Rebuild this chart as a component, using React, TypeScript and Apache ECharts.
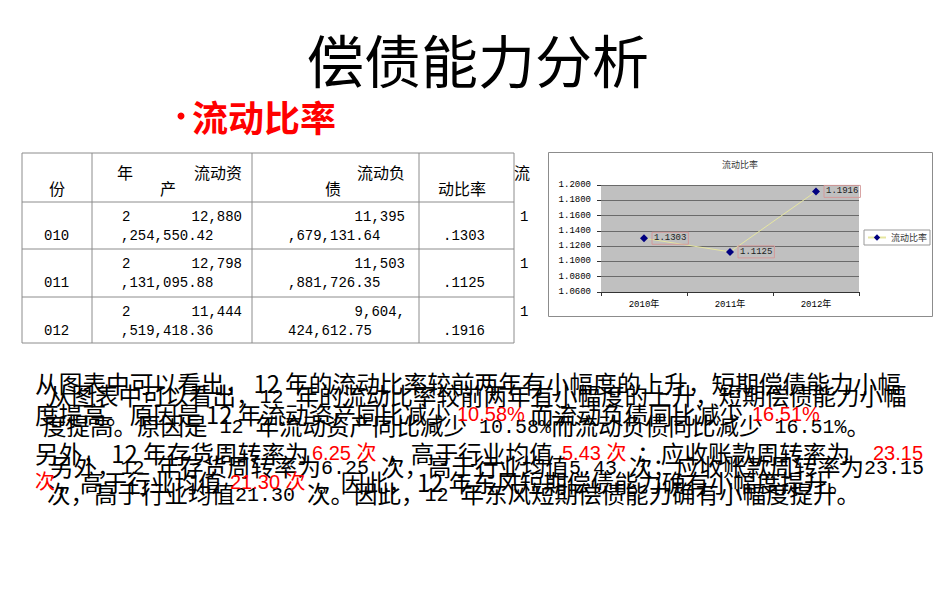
import React, { useEffect, useRef } from 'react';
import * as echarts from 'echarts';

// 표 / 차트 데이터
const categories = ['2010年', '2011年', '2012年'];
const years = ['2010', '2011', '2012'];
const currentAssets = ['12,880,254,550.42', '12,798,131,095.88', '11,444,519,418.36'];
const currentLiabilities = ['11,395,679,131.64', '11,503,881,726.35', '9,604,424,612.75'];
const currentRatio = [1.1303, 1.1125, 1.1916];
const yMin = 1.06;
const yMax = 1.2;
const yStep = 0.02;

// 본문 위 레이어: [글자, 빨간색 여부]
const textTop: [string, boolean][][] = [
  [['从图表中可以看出， 12 年的流动比率较前两年有小幅度的上升，短期偿债能力小幅', false]],
  [['度提高。原因是 12 年流动资产同比减少', false], ['10.58%', true], ['而流动负债同比减少', false], ['16.51%', true]],
  [['另外， 12 年存货周转率为', false], ['6.25 次', true], ['，高于行业均值', false], ['5.43 次', true], ['；应收账款周转率为', false], ['23.15', true]],
  [['次', true], ['，高于行业均值', false], ['21.30 次', true], ['。因此， 12 年东风短期偿债能力确有小幅度提升。', false]],
];
// 본문 아래 레이어
const textBottom = [
  '从图表中可以看出，12 年的流动比率较前两年有小幅度的上升，短期偿债能力小幅',
  '度提高。原因是 12 年流动资产同比减少 10.58%而流动负债同比减少 16.51%。',
  '另外，12 年存货周转率为6.25 次，高于行业均值5.43 次；应收账款周转率为23.15',
  '次，高于行业均值21.30 次。因此，12 年东风短期偿债能力确有小幅度提升。',
];

const CJK = '"Noto Sans CJK SC"';
const MONO = '"Liberation Mono", "Noto Sans CJK SC"';
const SANS = '"Liberation Sans", "Noto Sans CJK SC"';

const txt = (x: number, y: number, text: string, o: any = {}) => ({
  type: 'text',
  z: 10,
  style: {
    text,
    x,
    y,
    fill: o.fill || '#000',
    fontSize: o.size || 16,
    fontFamily: o.family || CJK,
    fontWeight: o.weight || 'normal',
    textAlign: o.align || 'left',
    align: o.align || 'left',
    textVerticalAlign: 'middle',
    verticalAlign: 'middle',
  },
});

const App = () => {
  const chartRef = useRef(null);

  useEffect(() => {
    const chart = echarts.init(chartRef.current, null, { renderer: 'svg' });

    // 표 선
    const colX = [22, 92, 252, 419, 514];
    const rowY = [153, 202, 249, 297, 343];
    const lines: any[] = [];
    rowY.forEach((y) =>
      lines.push({ type: 'line', z: 5, shape: { x1: colX[0], y1: y, x2: colX[4], y2: y }, style: { stroke: '#8c8c8c', lineWidth: 1 } })
    );
    colX.forEach((x) =>
      lines.push({ type: 'line', z: 5, shape: { x1: x, y1: rowY[0], x2: x, y2: rowY[4] }, style: { stroke: '#8c8c8c', lineWidth: 1 } })
    );

    // 표 글자
    const cells: any[] = [
      txt(57, 188, '份', { align: 'center' }),
      txt(125, 172, '年', { align: 'center' }),
      txt(242, 172, '流动资', { align: 'right' }),
      txt(168, 188, '产', { align: 'center' }),
      txt(405, 172, '流动负', { align: 'right' }),
      txt(333, 188, '债', { align: 'center' }),
      txt(438, 188, '动比率'),
      txt(514, 172, '流'),
    ];
    const topY = [217, 264, 312];
    const botY = [236, 283, 331];
    years.forEach((yr, i) => {
      const ratio = currentRatio[i].toFixed(4);
      const num = { family: MONO, size: 14 };
      cells.push(txt(122, topY[i], yr.slice(0, 1), num));
      cells.push(txt(44, botY[i], yr.slice(1), num));
      cells.push(txt(242, topY[i], currentAssets[i].slice(0, 6), { ...num, align: 'right' }));
      cells.push(txt(121, botY[i], currentAssets[i].slice(6), num));
      cells.push(txt(405, topY[i], currentLiabilities[i].slice(0, 6), { ...num, align: 'right' }));
      cells.push(txt(288, botY[i], currentLiabilities[i].slice(6), num));
      cells.push(txt(520, topY[i], ratio.slice(0, 1), num));
      cells.push(txt(443, botY[i], ratio.slice(1), num));
    });

    // 본문 아래 레이어 (title 컴포넌트, 한자/숫자 글꼴 분리)
    const bottomX = [48, 43, 50, 47];
    const bottomY = [395, 425, 466, 493];
    const titles: any[] = textBottom.map((line, i) => ({
      text: line
        .split(/([\x20-\x7e]+)/)
        .filter(Boolean)
        .map((s) => (/^[\x20-\x7e]+$/.test(s) ? `{n|${s}}` : `{b|${s}}`))
        .join(''),
      left: bottomX[i],
      top: bottomY[i] - 12,
      padding: 0,
      textStyle: {
        fontWeight: 'normal',
        rich: {
          b: { fontFamily: CJK, fontSize: 23.5, lineHeight: 24, color: '#000' },
          // 숫자가 한자 기준선에 맞도록 약간 아래로
          n: { fontFamily: MONO, fontSize: 20, lineHeight: 19, verticalAlign: 'bottom', color: '#000' },
        },
      },
    }));

    // 본문 위 레이어 (조각별 위치)
    const topXs = [[35], [35, 457, 530, 752], [35, 312, 387, 562, 637, 873], [35, 56, 230, 317]];
    const topYs = [383, 414, 453, 482];
    const paraTop: any[] = [];
    textTop.forEach((segs, i) => {
      segs.forEach(([t, red], j) => {
        paraTop.push(
          txt(topXs[i][j], topYs[i], t, red ? { size: 20, family: SANS, fill: '#ff0000' } : { size: 23.7 })
        );
      });
    });

    const options = {
      animation: false,
      title: titles,
      graphic: [
        txt(478, 58, '偿债能力分析', { size: 57, align: 'center' }),
        { type: 'circle', z: 10, shape: { cx: 181, cy: 116, r: 3.5 }, style: { fill: '#ff0000' } },
        txt(192, 116, '流动比率', { size: 36, weight: 'bold', fill: '#ff0000' }),
        ...lines,
        ...cells,
        ...paraTop,
        // 차트 박스
        { type: 'rect', z: -10, shape: { x: 548.5, y: 152.5, width: 384, height: 164 }, style: { fill: '#fff', stroke: '#8c8c8c', lineWidth: 1 } },
        txt(740, 164, '流动比率', { size: 9, fill: '#333', align: 'center' }),
      ],
      grid: {
        left: 601,
        top: 185,
        width: 258,
        height: 107,
        show: true,
        backgroundColor: '#c0c0c0',
        borderWidth: 0,
      },
      legend: {
        data: ['流动比率'],
        left: 864,
        top: 230,
        orient: 'vertical',
        padding: [3, 3],
        borderColor: '#999',
        borderWidth: 1,
        itemWidth: 18,
        itemHeight: 8,
        textStyle: { fontSize: 9, color: '#333', fontFamily: CJK },
      },
      xAxis: {
        type: 'category',
        data: categories,
        axisLine: { lineStyle: { color: '#333', width: 1 } },
        axisTick: { show: true, length: 4, lineStyle: { color: '#333' } },
        axisLabel: { fontSize: 9, fontFamily: MONO, color: '#000', margin: 8 },
      },
      yAxis: {
        type: 'value',
        min: yMin,
        max: yMax,
        interval: yStep,
        axisLine: { show: false },
        axisTick: { show: true, length: 4, lineStyle: { color: '#333' } },
        axisLabel: { fontSize: 9, fontFamily: MONO, color: '#000', margin: 10, formatter: (v: number) => v.toFixed(4) },
        splitLine: { lineStyle: { color: '#6a6a6a', width: 1 } },
      },
      series: [
        {
          name: '流动比率',
          type: 'line',
          data: currentRatio,
          symbol: 'diamond',
          symbolSize: 8,
          itemStyle: { color: '#000080' },
          lineStyle: { color: '#e6e6a0', width: 1 },
          label: {
            show: true,
            position: 'right',
            distance: 4,
            formatter: (p: any) => p.value.toFixed(4),
            fontSize: 9,
            fontFamily: MONO,
            color: '#222',
            borderColor: '#d49a9a',
            borderWidth: 1,
            padding: [2, 2, 1, 2],
          },
        },
      ],
    };

    chart.setOption(options);

    return () => {
      chart.dispose();
    };
  }, []);

  return (
    <div
      ref={chartRef}
      style={{ position: 'fixed', left: 0, top: 0, width: '950px', height: '594px', background: '#fff' }}
    ></div>
  );
};

export default App;
